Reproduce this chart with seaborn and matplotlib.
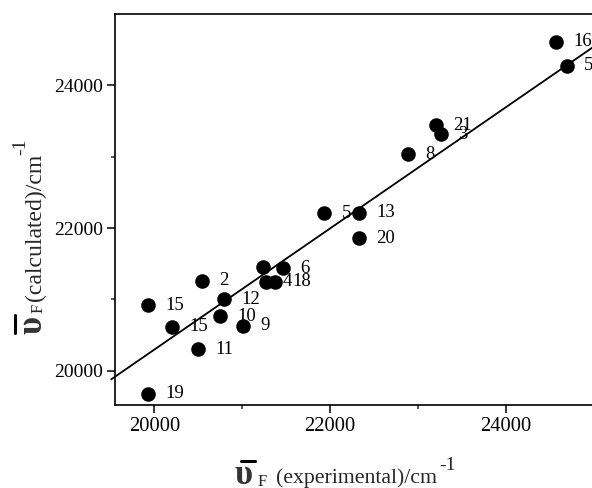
import matplotlib
matplotlib.use("Agg")
import matplotlib.pyplot as plt
from matplotlib.lines import Line2D
import seaborn as sns
import pandas as pd

# data
exp_x = [19925, 20201, 20540, 20790, 20748, 21013, 20494, 19925,
         21234, 21462, 21268, 21374, 21935, 22330, 22330, 22891,
         23203, 23260, 24573, 24694]
calc_y = [20920, 20616, 21260, 21004, 20766, 20630, 20300, 19678,
          21457, 21434, 21247, 21247, 22204, 22213, 21854, 23031,
          23441, 23315, 24608, 24272]
point_labels = ["15", "15", "2", "12", "10", "9", "11", "19",
                "", "6", "4", "18", "5", "13", "20", "8",
                "21", "3", "16", "5"]
fit_x = [19510, 25000]
fit_y = [19880, 24540]
x_ticks = [20000, 22000, 24000]
y_ticks = [20000, 22000, 24000]

df = pd.DataFrame({"exp": exp_x, "calc": calc_y, "lab": point_labels})

sns.set_theme(style="ticks")
plt.rcParams["font.family"] = ["Liberation Serif", "DejaVu Serif"]

W, H = 592, 488
fig = plt.figure(figsize=(W / 100, H / 100), dpi=100)
ax = fig.add_axes([115 / W, (H - 405) / H, 478.5 / W, 391 / H])

sns.lineplot(x=fit_x, y=fit_y, color="black", lw=1.3, ax=ax, zorder=2)
for ln in ax.lines:
    ln.set_clip_on(False)
sns.scatterplot(data=df, x="exp", y="calc", s=110, color="black",
                edgecolor="black", linewidth=0, ax=ax, zorder=3)

for xv, yv, lab in zip(exp_x, calc_y, point_labels):
    if lab:
        ax.annotate(lab, (xv, yv), xytext=(12.5, 0), textcoords="offset points",
                    va="center", ha="left", fontsize=13.5, color="black",
                    zorder=1)

ax.set_xlim(19553, 25000)
ax.set_ylim(19520, 25000)
ax.set_xticks(x_ticks)
ax.set_yticks(y_ticks)
ax.set_xticks([21000, 23000], minor=True)
ax.set_yticks([21000, 23000], minor=True)
ax.tick_params(which="major", direction="out", length=5.5, width=1.1,
               colors="black", pad=3)
ax.tick_params(axis="x", which="major", labelsize=14.8)
ax.tick_params(axis="y", which="major", labelsize=14)
ax.tick_params(which="minor", direction="out", length=3, width=1.1)
for sp in ax.spines.values():
    sp.set_visible(True)
    sp.set_linewidth(1.2)
    sp.set_color("black")
ax.set_xlabel("")
ax.set_ylabel("")


def px(x, y):
    return x / W, 1 - y / H


sym_kw = dict(fontsize=25, fontweight="bold", color="#333333",
              family=["Liberation Serif", "DejaVu Serif"])

# x label pieces
fig.text(*px(243.5, 475), "υ", ha="center", va="center", **sym_kw)
fig.add_artist(Line2D([241 / W, 255 / W], [1 - 461 / H, 1 - 461 / H],
                      color="black", lw=2.2, transform=fig.transFigure))
fig.text(*px(258, 482), "F", fontsize=12, ha="left", va="center")
fig.text(*px(276, 478), "(experimental)/cm", fontsize=15.7, ha="left",
         va="center")
fig.text(*px(439, 465), "-1", fontsize=14, ha="left", va="center")

# y label pieces (rotated)
fig.text(*px(33, 325), "υ", ha="center", va="center", rotation=90, **sym_kw)
fig.add_artist(Line2D([14.5 / W, 14.5 / W], [1 - 315 / H, 1 - 333 / H],
                      color="black", lw=2.2, transform=fig.transFigure))
fig.text(*px(39, 313), "F", fontsize=12, ha="center", va="bottom", rotation=90)
fig.text(*px(35, 301), "(calculated)/cm", fontsize=17, ha="center",
         va="bottom", rotation=90)
fig.text(*px(21, 155), "-1", fontsize=14, ha="center", va="bottom",
         rotation=90)

fig.savefig("out.png", dpi=100)
